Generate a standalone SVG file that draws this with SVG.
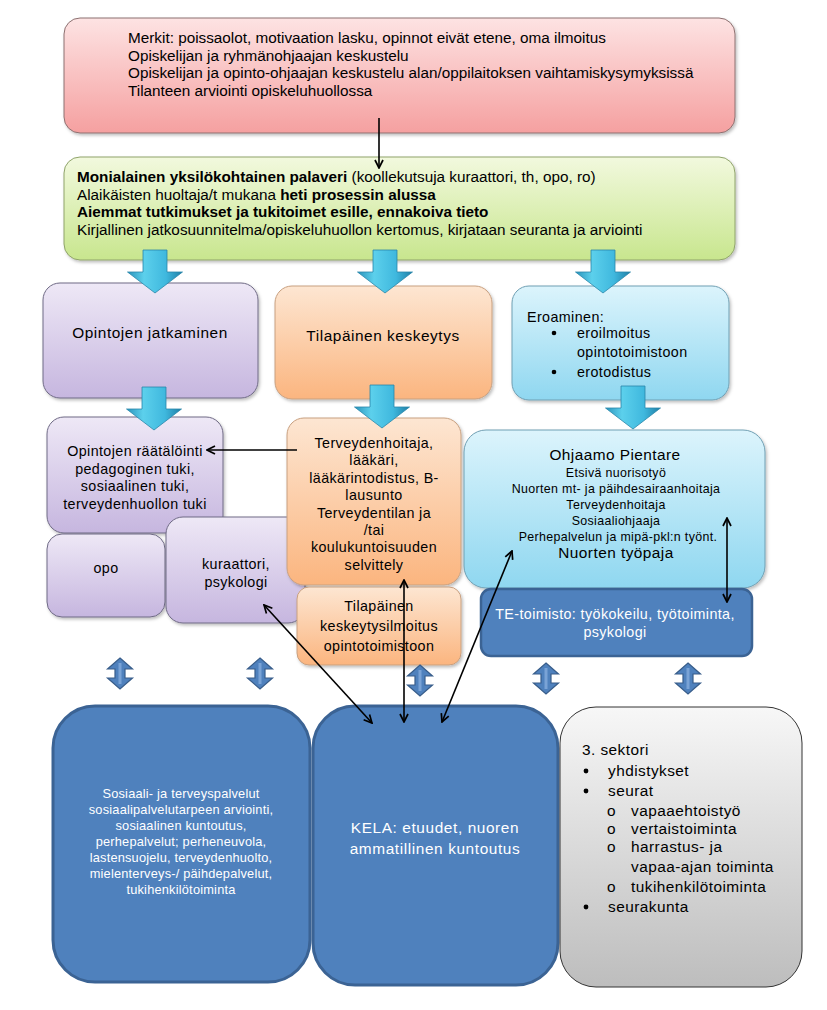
<svg xmlns="http://www.w3.org/2000/svg" width="827" height="1010" viewBox="0 0 827 1010">
<style>
text{font-family:"Liberation Sans",Arial,sans-serif;fill:#000}
.t15{font-size:15.3px}
.t14{font-size:14.3px;letter-spacing:0.4px}
.t12{font-size:12.4px;letter-spacing:0.35px}
.big{font-size:15.4px;letter-spacing:0.45px}
.w{fill:#fff}
.c{text-anchor:middle}
.b{font-weight:bold}
.con{fill:none;stroke:#000;stroke-width:1.6}
.blue{fill:#4f81bd;stroke:#3b6394;stroke-width:3}
</style>
<defs>
<filter id="sh" x="-5%" y="-5%" width="110%" height="115%"><feDropShadow dx="1.5" dy="2" stdDeviation="1.5" flood-color="#000" flood-opacity="0.25"/></filter>
<linearGradient id="gPink" x1="0" y1="0" x2="0" y2="1"><stop offset="0" stop-color="#fde3e3"/><stop offset="1" stop-color="#f5a0a0"/></linearGradient>
<linearGradient id="gGreen" x1="0" y1="0" x2="0" y2="1"><stop offset="0" stop-color="#f2f9de"/><stop offset="1" stop-color="#c8e68e"/></linearGradient>
<linearGradient id="gPurple" x1="0" y1="0" x2="0" y2="1"><stop offset="0" stop-color="#eee8f6"/><stop offset="1" stop-color="#c6b6df"/></linearGradient>
<linearGradient id="gOrange" x1="0" y1="0" x2="0" y2="1"><stop offset="0" stop-color="#fde6d2"/><stop offset="1" stop-color="#fbb57f"/></linearGradient>
<linearGradient id="gCyan" x1="0" y1="0" x2="0" y2="1"><stop offset="0" stop-color="#dcf4fc"/><stop offset="1" stop-color="#8fd7f0"/></linearGradient>
<linearGradient id="gGray" x1="0" y1="0" x2="0" y2="1"><stop offset="0" stop-color="#f7f7f7"/><stop offset="1" stop-color="#bdbdbd"/></linearGradient>
<linearGradient id="gFat" x1="0" y1="0" x2="1" y2="0"><stop offset="0" stop-color="#2a93bb"/><stop offset="0.3" stop-color="#5cd0ec"/><stop offset="0.7" stop-color="#3fb8de"/><stop offset="1" stop-color="#1f7fa6"/></linearGradient>
<path id="fat" d="M-12,0 L12,0 L12,22 L27.5,22 L0,43 L-27.5,22 L-12,22 Z" fill="url(#gFat)" stroke="#2a86aa" stroke-width="0.8"/>
<g id="dbl"><path d="M0,0 L12.5,11 L5,11 L5,20 L12.5,20 L0,31 L-12.5,20 L-5,20 L-5,11 L-12.5,11 Z" fill="#4f81bd" stroke="#385d8a" stroke-width="1.2"/><path d="M0,5 L0,26" stroke="#7aa3d6" stroke-width="3"/></g>
<marker id="ah" viewBox="0 0 10 10" refX="9" refY="5" markerWidth="10" markerHeight="10" orient="auto-start-reverse" markerUnits="userSpaceOnUse"><path d="M1,1 L9,5 L1,9" fill="none" stroke="#000" stroke-width="1.7"/></marker>
</defs>
<rect width="827" height="1010" fill="#fff"/>

<g id="top">
<rect x="64" y="18" width="671" height="115" rx="16" fill="url(#gPink)" stroke="#8c7070" stroke-width="1" filter="url(#sh)"/>
<text class="t15" x="128" y="43">Merkit: poissaolot, motivaation lasku, opinnot eivät etene, oma ilmoitus</text>
<text class="t15" x="128" y="60.5">Opiskelijan ja ryhmänohjaajan keskustelu</text>
<text class="t15" x="128" y="78">Opiskelijan ja opinto-ohjaajan keskustelu alan/oppilaitoksen vaihtamiskysymyksissä</text>
<text class="t15" x="128" y="95.5">Tilanteen arviointi opiskeluhuollossa</text>
</g>

<g id="palaveri">
<rect x="64" y="157" width="671" height="103" rx="16" fill="url(#gGreen)" stroke="#8fa36a" stroke-width="1" filter="url(#sh)"/>
<text class="t15" x="77" y="182"><tspan class="b">Monialainen yksilökohtainen palaveri</tspan> (koollekutsuja kuraattori, th, opo, ro)</text>
<text class="t15" x="77" y="199.5">Alaikäisten huoltaja/t mukana <tspan class="b">heti prosessin alussa</tspan></text>
<text class="t15" x="77" y="217"><tspan class="b">Aiemmat tutkimukset ja tukitoimet esille, ennakoiva tieto</tspan></text>
<text class="t15" x="77" y="234.5">Kirjallinen jatkosuunnitelma/opiskeluhuollon kertomus, kirjataan seuranta ja arviointi</text>
</g>

<g id="jatkaminen">
<rect x="43" y="283" width="215" height="115" rx="17" fill="url(#gPurple)" stroke="#6f6a85" stroke-width="1" filter="url(#sh)"/>
<text class="big c" x="150" y="338" style="letter-spacing:0.55px">Opintojen jatkaminen</text>
</g>

<g id="keskeytys">
<rect x="275" y="286" width="217" height="113" rx="17" fill="url(#gOrange)" stroke="#c8a080" stroke-width="1" filter="url(#sh)"/>
<text class="big c" x="383" y="341" style="letter-spacing:0.55px">Tilapäinen keskeytys</text>
</g>

<g id="eroaminen">
<rect x="512" y="286" width="217" height="114" rx="17" fill="url(#gCyan)" stroke="#6f9fb3" stroke-width="1" filter="url(#sh)"/>
<text class="t14" x="527" y="322">Eroaminen:</text>
<circle cx="554" cy="333" r="2.3"/>
<text class="t14" x="577" y="338">eroilmoitus</text>
<text class="t14" x="577" y="357">opintotoimistoon</text>
<circle cx="554" cy="372" r="2.3"/>
<text class="t14" x="577" y="377">erotodistus</text>
</g>

<g id="raatalointi">
<rect x="47" y="417" width="176" height="116" rx="17" fill="url(#gPurple)" stroke="#6f6a85" stroke-width="1" filter="url(#sh)"/>
<text class="t14 c" x="135" y="456">Opintojen räätälöinti</text>
<text class="t14 c" x="135" y="473.5">pedagoginen tuki,</text>
<text class="t14 c" x="135" y="491">sosiaalinen tuki,</text>
<text class="t14 c" x="135" y="508.5">terveydenhuollon tuki</text>
</g>

<g id="opo">
<rect x="47" y="534" width="118" height="83" rx="15" fill="url(#gPurple)" stroke="#6f6a85" stroke-width="1" filter="url(#sh)"/>
<text class="t14 c" x="106" y="573">opo</text>
</g>

<g id="kuraattori">
<rect x="166" y="517" width="139" height="106" rx="17" fill="url(#gPurple)" stroke="#6f6a85" stroke-width="1" filter="url(#sh)"/>
<text class="t14 c" x="236" y="569">kuraattori,</text>
<text class="t14 c" x="236" y="587">psykologi</text>
</g>

<g id="terveydenhoitaja">
<rect x="287" y="418" width="174" height="167" rx="17" fill="url(#gOrange)" stroke="#c8a080" stroke-width="1" filter="url(#sh)"/>
<text class="t14 c" x="374" y="448">Terveydenhoitaja,</text>
<text class="t14 c" x="374" y="465.4">lääkäri,</text>
<text class="t14 c" x="374" y="482.8">lääkärintodistus, B-</text>
<text class="t14 c" x="374" y="500.2">lausunto</text>
<text class="t14 c" x="374" y="517.6">Terveydentilan ja</text>
<text class="t14 c" x="374" y="535">/tai</text>
<text class="t14 c" x="374" y="552.4">koulukuntoisuuden</text>
<text class="t14 c" x="374" y="569.8">selvittely</text>
</g>

<g id="keskeytysilmoitus">
<rect x="297" y="587" width="164" height="78" rx="12" fill="url(#gOrange)" stroke="#c8a080" stroke-width="1" filter="url(#sh)"/>
<text class="t14 c" x="379" y="611">Tilapäinen</text>
<text class="t14 c" x="379" y="631">keskeytysilmoitus</text>
<text class="t14 c" x="379" y="651">opintotoimistoon</text>
</g>

<g id="ohjaamo">
<rect x="464" y="430" width="301" height="158" rx="22" fill="url(#gCyan)" stroke="#6f9fb3" stroke-width="1" filter="url(#sh)"/>
<text class="big c" x="615" y="460">Ohjaamo Pientare</text>
<text class="t12 c" x="616" y="477">Etsivä nuorisotyö</text>
<text class="t12 c" x="616" y="493">Nuorten mt- ja päihdesairaanhoitaja</text>
<text class="t12 c" x="616" y="509">Terveydenhoitaja</text>
<text class="t12 c" x="616" y="525">Sosiaaliohjaaja</text>
<text class="t12 c" x="618" y="541">Perhepalvelun ja mipä-pkl:n työnt.</text>
<text class="big c" x="616" y="558">Nuorten työpaja</text>
</g>

<g id="te-toimisto">
<rect x="481" y="589" width="271" height="67" rx="10" class="blue" style="stroke-width:2.5"/>
<text class="t14 c w" x="615" y="619">TE-toimisto: työkokeilu, työtoiminta,</text>
<text class="t14 c w" x="615" y="637">psykologi</text>
</g>

<g id="sosiaali">
<rect x="53" y="706" width="257" height="276" rx="42" class="blue"/>
<text class="t12 c w" x="181" y="798" style="font-size:12.8px;letter-spacing:0.2px">Sosiaali- ja terveyspalvelut</text>
<text class="t12 c w" x="181" y="814" style="font-size:12.8px;letter-spacing:0.2px">sosiaalipalvelutarpeen arviointi,</text>
<text class="t12 c w" x="181" y="830" style="font-size:12.8px;letter-spacing:0.2px">sosiaalinen kuntoutus,</text>
<text class="t12 c w" x="181" y="846" style="font-size:12.8px;letter-spacing:0.2px">perhepalvelut; perheneuvola,</text>
<text class="t12 c w" x="181" y="862" style="font-size:12.8px;letter-spacing:0.2px">lastensuojelu, terveydenhuolto,</text>
<text class="t12 c w" x="181" y="878" style="font-size:12.8px;letter-spacing:0.2px">mielenterveys-/ päihdepalvelut,</text>
<text class="t12 c w" x="181" y="894" style="font-size:12.8px;letter-spacing:0.2px">tukihenkilötoiminta</text>
</g>

<g id="kela">
<rect x="313" y="706" width="245" height="279" rx="42" class="blue"/>
<text class="big c w" x="435" y="833" style="letter-spacing:0.6px">KELA: etuudet, nuoren</text>
<text class="big c w" x="435" y="854" style="letter-spacing:0.6px">ammatillinen kuntoutus</text>
</g>

<g id="sektori">
<rect x="560" y="707" width="242" height="280" rx="36" fill="url(#gGray)" stroke="#333" stroke-width="1"/>
<text class="big" x="582" y="755">3. sektori</text>
<circle cx="586" cy="771" r="2.4"/>
<text class="big" x="608" y="776">yhdistykset</text>
<circle cx="586" cy="791" r="2.4"/>
<text class="big" x="608" y="796">seurat</text>
<text class="big" x="607" y="816">o</text>
<text class="big" x="631" y="816">vapaaehtoistyö</text>
<text class="big" x="607" y="834">o</text>
<text class="big" x="631" y="834">vertaistoiminta</text>
<text class="big" x="607" y="852">o</text>
<text class="big" x="631" y="852">harrastus- ja</text>
<text class="big" x="631" y="872">vapaa-ajan toiminta</text>
<text class="big" x="607" y="892">o</text>
<text class="big" x="631" y="892">tukihenkilötoiminta</text>
<circle cx="586" cy="907" r="2.4"/>
<text class="big" x="608" y="912">seurakunta</text>
</g>

<g id="connectors">
<use href="#fat" transform="translate(155,250)"/>
<use href="#fat" transform="translate(385,250)"/>
<use href="#fat" transform="translate(603,250)"/>
<use href="#fat" transform="translate(154,387)"/>
<use href="#fat" transform="translate(382,385)"/>
<use href="#fat" transform="translate(633,386)"/>
<use href="#dbl" transform="translate(120,658)"/>
<use href="#dbl" transform="translate(260,658)"/>
<use href="#dbl" transform="translate(420,665)"/>
<use href="#dbl" transform="translate(546,663)"/>
<use href="#dbl" transform="translate(688,663)"/>
<line class="con" x1="379" y1="118" x2="379" y2="168" marker-end="url(#ah)"/>
<line class="con" x1="297" y1="450" x2="207" y2="450" marker-end="url(#ah)"/>
<line class="con" x1="372" y1="723" x2="264" y2="605" marker-start="url(#ah)" marker-end="url(#ah)"/>
<line class="con" x1="404" y1="722" x2="404" y2="580" marker-start="url(#ah)" marker-end="url(#ah)"/>
<line class="con" x1="442" y1="722" x2="512" y2="551" marker-start="url(#ah)" marker-end="url(#ah)"/>
<line class="con" x1="727" y1="518" x2="727" y2="602" marker-start="url(#ah)" marker-end="url(#ah)"/>
</g>
</svg>
